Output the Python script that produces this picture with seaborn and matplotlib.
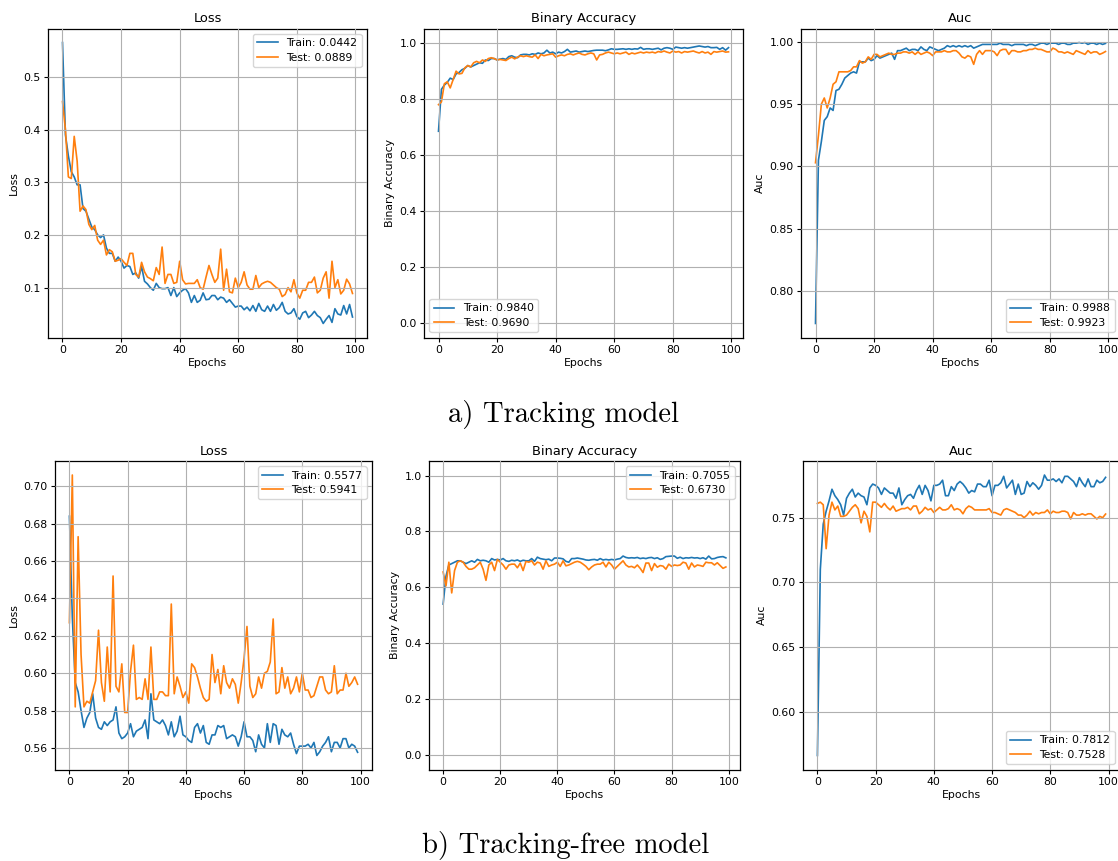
import numpy as np
import matplotlib
matplotlib.use("Agg")
import matplotlib.pyplot as plt
import seaborn as sns

epochs = list(range(100))

# ---------- a) Tracking model ----------
trk_loss_train = [0.565, 0.39, 0.35, 0.32, 0.31, 0.295, 0.295, 0.25, 0.245, 0.23,
                  0.215, 0.21, 0.2, 0.195, 0.2, 0.175, 0.165, 0.165, 0.15, 0.158,
                  0.15, 0.137, 0.142, 0.14, 0.125, 0.128, 0.118, 0.14, 0.112, 0.107,
                  0.1, 0.095, 0.108, 0.1, 0.098, 0.098, 0.1, 0.085, 0.1, 0.083,
                  0.09, 0.095, 0.098, 0.09, 0.072, 0.085, 0.072, 0.076, 0.09, 0.077,
                  0.078, 0.085, 0.085, 0.077, 0.082, 0.08, 0.072, 0.077, 0.07, 0.063,
                  0.065, 0.065, 0.058, 0.063, 0.056, 0.066, 0.055, 0.07, 0.058, 0.055,
                  0.065, 0.055, 0.068, 0.057, 0.062, 0.072, 0.055, 0.05, 0.052, 0.06,
                  0.045, 0.04, 0.052, 0.055, 0.043, 0.048, 0.055, 0.047, 0.043, 0.032,
                  0.04, 0.047, 0.034, 0.06, 0.05, 0.048, 0.066, 0.05, 0.068, 0.0442]
trk_loss_test = [0.453, 0.4, 0.31, 0.307, 0.387, 0.34, 0.245, 0.255, 0.248, 0.22,
                 0.21, 0.218, 0.19, 0.182, 0.19, 0.162, 0.172, 0.168, 0.15, 0.152,
                 0.155, 0.148, 0.142, 0.165, 0.165, 0.125, 0.12, 0.148, 0.13, 0.12,
                 0.117, 0.113, 0.138, 0.125, 0.177, 0.108, 0.125, 0.125, 0.108, 0.11,
                 0.15, 0.115, 0.107, 0.108, 0.108, 0.108, 0.115, 0.1, 0.097, 0.12,
                 0.142, 0.125, 0.11, 0.118, 0.173, 0.095, 0.135, 0.092, 0.09, 0.118,
                 0.1, 0.11, 0.13, 0.105, 0.097, 0.097, 0.123, 0.1, 0.107, 0.11,
                 0.112, 0.11, 0.105, 0.1, 0.097, 0.083, 0.087, 0.1, 0.092, 0.115,
                 0.09, 0.08, 0.095, 0.095, 0.11, 0.11, 0.12, 0.09, 0.095, 0.118,
                 0.13, 0.08, 0.15, 0.1, 0.115, 0.088, 0.095, 0.116, 0.107, 0.0889]
trk_acc_train = [0.685, 0.835, 0.85, 0.86, 0.875, 0.87, 0.89, 0.895, 0.905, 0.91,
                 0.92, 0.915, 0.92, 0.925, 0.93, 0.928, 0.94, 0.938, 0.945, 0.945,
                 0.94, 0.943, 0.945, 0.942, 0.952, 0.955, 0.95, 0.948, 0.958, 0.96,
                 0.96, 0.958, 0.962, 0.96, 0.965, 0.962, 0.965, 0.975, 0.965, 0.968,
                 0.962, 0.968, 0.965, 0.97, 0.978, 0.968, 0.97, 0.972, 0.968, 0.97,
                 0.972, 0.97, 0.972, 0.974, 0.975, 0.975, 0.975, 0.973, 0.976, 0.98,
                 0.978, 0.978, 0.979, 0.98, 0.978, 0.98, 0.978, 0.98, 0.979, 0.985,
                 0.978, 0.98, 0.98, 0.978, 0.98, 0.982, 0.976, 0.982, 0.984, 0.982,
                 0.978, 0.986, 0.984, 0.982, 0.984, 0.982, 0.984, 0.986, 0.988, 0.99,
                 0.988, 0.986, 0.988, 0.984, 0.984, 0.985, 0.978, 0.984, 0.975, 0.984]
trk_acc_test = [0.78, 0.79, 0.855, 0.862, 0.84, 0.87, 0.9, 0.89, 0.892, 0.912,
                0.92, 0.915, 0.93, 0.935, 0.93, 0.94, 0.935, 0.945, 0.948, 0.945,
                0.94, 0.942, 0.94, 0.938, 0.945, 0.95, 0.944, 0.95, 0.955, 0.952,
                0.955, 0.952, 0.95, 0.958, 0.945, 0.96, 0.955, 0.958, 0.96, 0.962,
                0.95, 0.955, 0.958, 0.955, 0.96, 0.962, 0.958, 0.962, 0.965, 0.96,
                0.958, 0.962, 0.965, 0.962, 0.94, 0.958, 0.96, 0.965, 0.968, 0.965,
                0.962, 0.965, 0.962, 0.965, 0.968, 0.96, 0.965, 0.962, 0.965, 0.968,
                0.965, 0.968, 0.966, 0.968, 0.965, 0.97, 0.968, 0.972, 0.968, 0.965,
                0.972, 0.968, 0.97, 0.965, 0.97, 0.968, 0.97, 0.972, 0.968, 0.965,
                0.97, 0.965, 0.968, 0.96, 0.97, 0.968, 0.97, 0.972, 0.968, 0.969]
trk_auc_train = [0.774, 0.905, 0.92, 0.937, 0.94, 0.947, 0.945, 0.961, 0.962, 0.966,
                 0.971, 0.973, 0.975, 0.976, 0.975, 0.984, 0.984, 0.984, 0.987, 0.985,
                 0.986, 0.989, 0.987, 0.988, 0.989, 0.99, 0.991, 0.986, 0.993, 0.993,
                 0.994, 0.995, 0.993, 0.994, 0.994, 0.993, 0.996, 0.994, 0.993, 0.996,
                 0.995, 0.994, 0.993, 0.994, 0.995, 0.997, 0.996, 0.997, 0.996, 0.997,
                 0.996, 0.997, 0.996, 0.997, 0.995, 0.996, 0.997, 0.998, 0.998, 0.998,
                 0.998, 0.998, 0.998, 0.999, 0.998, 0.998, 0.998, 0.997, 0.998, 0.998,
                 0.998, 0.998, 0.997, 0.998, 0.998, 0.997, 0.998, 0.999, 0.999, 0.998,
                 0.999, 0.999, 0.999, 0.998, 0.999, 0.999, 0.998, 0.998, 0.999, 0.999,
                 0.9995, 0.999, 0.9995, 0.998, 0.999, 0.999, 0.998, 0.999, 0.998, 0.9988]
trk_auc_test = [0.903, 0.925, 0.95, 0.955, 0.947, 0.955, 0.966, 0.968, 0.976, 0.976,
                0.976, 0.976, 0.977, 0.98, 0.98, 0.985, 0.983, 0.984, 0.988, 0.986,
                0.99, 0.99, 0.988, 0.989, 0.99, 0.991, 0.99, 0.99, 0.991, 0.991,
                0.992, 0.992, 0.991, 0.992, 0.99, 0.992, 0.99, 0.991, 0.992, 0.991,
                0.989, 0.992, 0.992, 0.992, 0.993, 0.992, 0.992, 0.993, 0.993, 0.991,
                0.988, 0.987, 0.989, 0.988, 0.982, 0.99, 0.993, 0.99, 0.993, 0.993,
                0.993, 0.992, 0.989, 0.993, 0.994, 0.994, 0.99, 0.993, 0.993, 0.992,
                0.992, 0.993, 0.993, 0.994, 0.994, 0.995, 0.994, 0.994, 0.993, 0.992,
                0.992, 0.995, 0.994, 0.992, 0.992, 0.991, 0.992, 0.991, 0.99, 0.993,
                0.992, 0.991, 0.99, 0.993, 0.991, 0.992, 0.992, 0.99, 0.991, 0.9923]

# ---------- b) Tracking-free model ----------
free_loss_train = [0.684, 0.63, 0.595, 0.59, 0.58, 0.571, 0.576, 0.579, 0.589, 0.576,
                   0.571, 0.570, 0.574, 0.572, 0.574, 0.575, 0.582, 0.568, 0.565, 0.566,
                   0.568, 0.573, 0.566, 0.569, 0.57, 0.571, 0.575, 0.565, 0.589, 0.575,
                   0.574, 0.573, 0.575, 0.572, 0.567, 0.574, 0.566, 0.569, 0.577, 0.567,
                   0.566, 0.564, 0.563, 0.571, 0.573, 0.568, 0.572, 0.563, 0.562, 0.567,
                   0.567, 0.572, 0.571, 0.572, 0.565, 0.566, 0.567, 0.566, 0.561, 0.566,
                   0.574, 0.566, 0.566, 0.564, 0.558, 0.567, 0.562, 0.56, 0.573, 0.563,
                   0.573, 0.572, 0.562, 0.57, 0.567, 0.566, 0.568, 0.562, 0.557, 0.561,
                   0.561, 0.561, 0.562, 0.56, 0.563, 0.556, 0.558, 0.561, 0.563, 0.566,
                   0.558, 0.563, 0.563, 0.56, 0.565, 0.565, 0.56, 0.562, 0.561, 0.5577]
free_loss_test = [0.627, 0.706, 0.582, 0.673, 0.61, 0.582, 0.585, 0.584, 0.59, 0.596,
                  0.623, 0.595, 0.585, 0.614, 0.59, 0.652, 0.593, 0.59, 0.605, 0.579,
                  0.579, 0.601, 0.615, 0.586, 0.587, 0.586, 0.597, 0.586, 0.614, 0.586,
                  0.586, 0.59, 0.59, 0.588, 0.588, 0.637, 0.589, 0.598, 0.593, 0.587,
                  0.59, 0.584, 0.605, 0.603, 0.598, 0.592, 0.587, 0.585, 0.586, 0.61,
                  0.595, 0.602, 0.589, 0.604, 0.595, 0.592, 0.597, 0.594, 0.584, 0.595,
                  0.608, 0.625, 0.593, 0.587, 0.589, 0.598, 0.592, 0.6, 0.601, 0.606,
                  0.629, 0.589, 0.59, 0.603, 0.592, 0.598, 0.589, 0.592, 0.598, 0.59,
                  0.6, 0.591, 0.591, 0.587, 0.588, 0.593, 0.598, 0.598, 0.591, 0.589,
                  0.59, 0.604, 0.589, 0.591, 0.591, 0.6, 0.593, 0.595, 0.598, 0.5941]
free_acc_train = [0.54, 0.64, 0.68, 0.685, 0.69, 0.695, 0.695, 0.69, 0.685, 0.69,
                  0.695, 0.69, 0.7, 0.695, 0.697, 0.695, 0.69, 0.703, 0.698, 0.7,
                  0.698, 0.703, 0.695, 0.693, 0.697, 0.695, 0.698, 0.693, 0.697, 0.695,
                  0.695, 0.703, 0.693, 0.708, 0.703, 0.701, 0.699, 0.701, 0.695, 0.705,
                  0.705, 0.704, 0.702, 0.693, 0.69, 0.703, 0.703, 0.705, 0.703, 0.701,
                  0.698, 0.697, 0.699, 0.7, 0.697, 0.703, 0.698, 0.7, 0.698, 0.7,
                  0.698, 0.701, 0.703, 0.712, 0.707, 0.705, 0.706, 0.705, 0.707, 0.703,
                  0.705, 0.703, 0.706, 0.707, 0.703, 0.706, 0.7, 0.703, 0.71, 0.711,
                  0.712, 0.712, 0.704, 0.708, 0.703, 0.706, 0.705, 0.707, 0.705, 0.706,
                  0.703, 0.706, 0.701, 0.712, 0.702, 0.703, 0.707, 0.709, 0.71, 0.7055]
free_acc_test = [0.655, 0.605, 0.69, 0.58, 0.66, 0.69, 0.695, 0.69, 0.675, 0.665,
                 0.665, 0.67, 0.68, 0.69, 0.665, 0.625, 0.68, 0.69, 0.66, 0.7,
                 0.69, 0.68, 0.665, 0.68, 0.683, 0.683, 0.67, 0.687, 0.66, 0.693,
                 0.69, 0.695, 0.68, 0.69, 0.687, 0.665, 0.695, 0.675, 0.68, 0.683,
                 0.69, 0.675, 0.695, 0.677, 0.68, 0.685, 0.69, 0.693, 0.69, 0.683,
                 0.675, 0.663, 0.673, 0.68, 0.683, 0.683, 0.69, 0.673, 0.69, 0.68,
                 0.665, 0.675, 0.685, 0.695, 0.68, 0.673, 0.675, 0.67, 0.68, 0.668,
                 0.653, 0.687, 0.687, 0.66, 0.685, 0.672, 0.678, 0.676, 0.665, 0.683,
                 0.675, 0.68, 0.678, 0.68, 0.69, 0.687, 0.665, 0.687, 0.673, 0.68,
                 0.678, 0.675, 0.69, 0.688, 0.688, 0.68, 0.688, 0.678, 0.668, 0.673]
free_auc_train = [0.566, 0.71, 0.745, 0.755, 0.763, 0.772, 0.767, 0.764, 0.76, 0.752,
                  0.765, 0.769, 0.772, 0.766, 0.769, 0.767, 0.766, 0.76, 0.773, 0.776,
                  0.775, 0.773, 0.768, 0.773, 0.771, 0.769, 0.769, 0.765, 0.773, 0.76,
                  0.764, 0.767, 0.768, 0.765, 0.771, 0.775, 0.768, 0.775, 0.771, 0.763,
                  0.775, 0.775, 0.776, 0.779, 0.767, 0.767, 0.774, 0.771, 0.776, 0.778,
                  0.776, 0.773, 0.769, 0.771, 0.77, 0.776, 0.776, 0.774, 0.774, 0.779,
                  0.767, 0.775, 0.775, 0.777, 0.782, 0.773, 0.776, 0.779, 0.768, 0.776,
                  0.768, 0.769, 0.778, 0.774, 0.777, 0.775, 0.772, 0.775, 0.783, 0.779,
                  0.779, 0.78, 0.778, 0.78, 0.777, 0.782, 0.782, 0.78, 0.778, 0.774,
                  0.781, 0.777, 0.774, 0.78, 0.774, 0.774, 0.779, 0.777, 0.778, 0.7812]
free_auc_test = [0.761, 0.762, 0.76, 0.726, 0.752, 0.762, 0.756, 0.759, 0.751, 0.751,
                 0.752, 0.755, 0.758, 0.76, 0.757, 0.746, 0.755, 0.751, 0.739, 0.762,
                 0.762, 0.76, 0.758, 0.761, 0.758, 0.756, 0.759, 0.755, 0.756, 0.757,
                 0.757, 0.758, 0.756, 0.759, 0.759, 0.753, 0.755, 0.758, 0.756, 0.757,
                 0.754, 0.756, 0.758, 0.756, 0.756, 0.757, 0.76, 0.756, 0.757, 0.756,
                 0.753, 0.757, 0.759, 0.758, 0.756, 0.756, 0.756, 0.756, 0.756, 0.757,
                 0.754, 0.754, 0.753, 0.752, 0.756, 0.757, 0.756, 0.755, 0.754, 0.752,
                 0.752, 0.75, 0.752, 0.755, 0.752, 0.754, 0.753, 0.754, 0.754, 0.756,
                 0.753, 0.755, 0.754, 0.754, 0.755, 0.755, 0.754, 0.749, 0.754, 0.752,
                 0.752, 0.753, 0.752, 0.753, 0.753, 0.751, 0.749, 0.751, 0.75, 0.7528]

titles = ["Loss", "Binary Accuracy", "Auc"]
captions = ["a) Tracking model", "b) Tracking-free model"]

rows = [
    [(trk_loss_train, trk_loss_test), (trk_acc_train, trk_acc_test), (trk_auc_train, trk_auc_test)],
    [(free_loss_train, free_loss_test), (free_acc_train, free_acc_test), (free_auc_train, free_auc_test)],
]
legend_locs = [["upper right", "lower left", "lower right"],
               ["upper right", "upper right", "lower right"]]

W, H = 1118, 861
# pixel rects: (left, top, width, height)
rects = [
    [(48, 28.5, 319, 309), (424, 28.5, 319, 309), (801, 28.5, 319, 309)],
    [(55, 461, 317, 308.5), (429, 461, 311, 308.5), (803, 461, 317, 308.5)],
]

fs = 7.8
plt.rcParams.update({
    "font.family": "DejaVu Sans",
    "font.size": fs,
    "axes.titlesize": 9.4,
    "axes.labelsize": fs,
    "xtick.labelsize": fs,
    "ytick.labelsize": fs,
    "legend.fontsize": fs,
    "xtick.major.size": 2.8,
    "ytick.major.size": 2.8,
    "axes.linewidth": 0.9,
})

fig = plt.figure(figsize=(W / 100, H / 100), dpi=100)
fig.patch.set_facecolor("white")

for r in range(2):
    for c in range(3):
        l, t, w, h = rects[r][c]
        ax = fig.add_axes([l / W, 1 - (t + h) / H, w / W, h / H])
        tr, te = rows[r][c]
        sns.lineplot(x=epochs, y=tr, ax=ax, color="#1f77b4", linewidth=1.2,
                     label=f"Train: {tr[-1]:.4f}")
        sns.lineplot(x=epochs, y=te, ax=ax, color="#ff7f0e", linewidth=1.2,
                     label=f"Test: {te[-1]:.4f}")
        ax.set_title(titles[c], pad=4.5)
        ax.set_xlabel("Epochs", labelpad=2)
        ax.set_ylabel(titles[c], labelpad=3)
        ax.grid(True, color="#b0b0b0", linewidth=0.8)
        ax.set_axisbelow(False)
        ax.set_xticks([0, 20, 40, 60, 80, 100])
        if c == 1:
            ax.set_ylim(-0.0525, 1.0525)
            ax.set_yticks([0.0, 0.2, 0.4, 0.6, 0.8, 1.0])
        ax.tick_params(pad=2.5)
        ax.legend(loc=legend_locs[r][c], handlelength=1.9, borderpad=0.4,
                  labelspacing=0.4, framealpha=0.8)

fig.text(564 / W, 1 - 422 / H, captions[0], ha="center", va="baseline",
         fontfamily="cmr10", fontsize=20.6)
fig.text(566 / W, 1 - 853 / H, captions[1], ha="center", va="baseline",
         fontfamily="cmr10", fontsize=20.6)

fig.savefig("out.png", dpi=100, facecolor="white")
